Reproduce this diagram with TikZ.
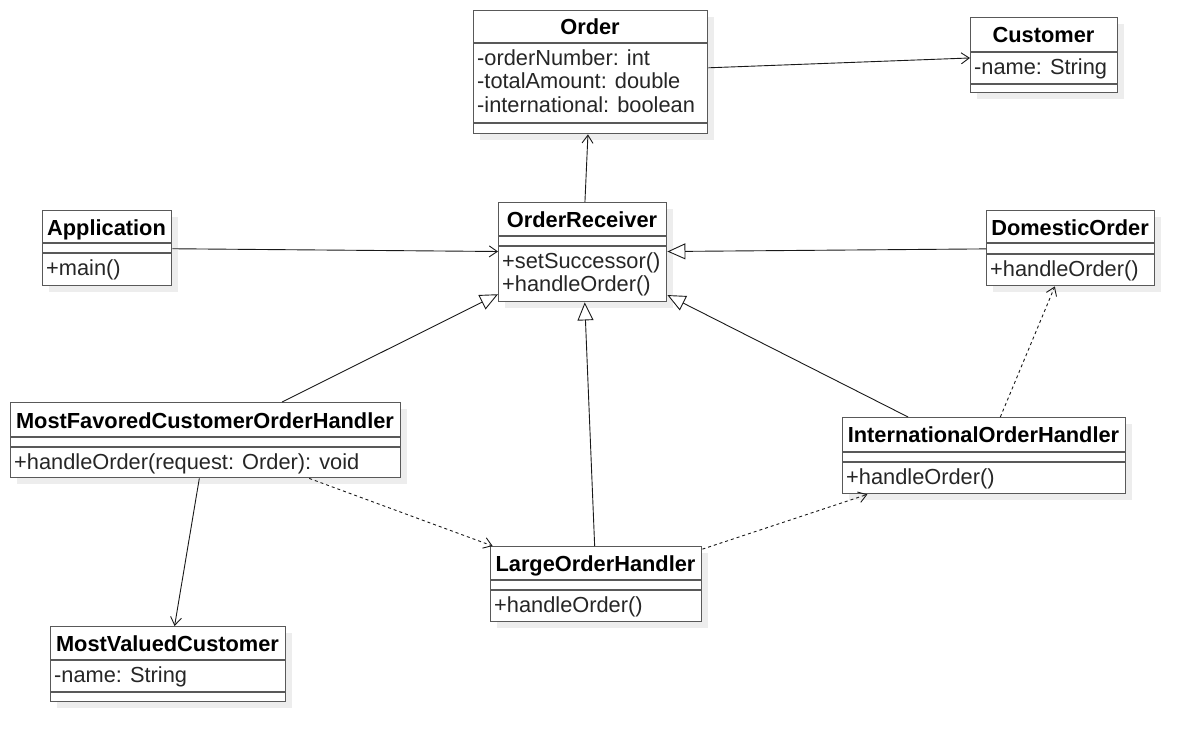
\documentclass[tikz,border=0pt]{standalone}
\usepackage{fontspec}
\setmainfont{Liberation Sans}
\usetikzlibrary{arrows.meta, shadows}

\begin{document}
\begin{tikzpicture}[x=1pt, y=-1pt,
    font={\fontsize{21.8}{23.5}\selectfont},
    classbox/.style={draw=black!65, line width=1.4pt, fill=white, inner sep=0pt, anchor=north west,
        drop shadow={shadow xshift=6pt, shadow yshift=-6pt, fill=black!7, opacity=1}},
    divider/.style={draw=black!65, line width=1.4pt},
    classname/.style={font={\fontsize{21.8}{23.5}\selectfont\bfseries}, anchor=base, inner sep=0pt},
    members/.style={align=left, anchor=north west, inner sep=0pt, text=black!85},
    assoc/.style={-{Straight Barb[length=8pt,width=11pt]}, line width=0.9pt, black!90},
    inherit/.style={-{Triangle[open,length=18pt,width=16pt,fill=white]}, line width=0.9pt, black!90},
    depend/.style={assoc, dash pattern=on 3pt off 3pt}]
    \useasboundingbox (0,0) rectangle (1193,741);

    % classes
    \node[classbox, minimum width=234, minimum height=123] (order) at (473,10) {};
    \draw[divider] (473,43) -- (707,43);
    \draw[divider] (473,123) -- (707,123);
    \node[classname] (order-name) at (590,35) {Order};
    \node[members] (order-attr) at (477,48.5) {\strut-orderNumber: int\\-totalAmount: double\\-international: boolean};

    \node[classbox, minimum width=147, minimum height=75] (customer) at (970,17) {};
    \draw[divider] (970,52) -- (1117,52);
    \draw[divider] (970,84) -- (1117,84);
    \node[classname] (customer-name) at (1043.5,43) {Customer};
    \node[members] (customer-attr) at (974,57.5) {\strut-name: String};

    \node[classbox, minimum width=129, minimum height=75] (application) at (42,210) {};
    \draw[divider] (42,243) -- (171,243);
    \draw[divider] (42,253) -- (171,253);
    \node[classname] (application-name) at (106.5,235) {Application};
    \node[members] (application-ops) at (46,258.5) {\strut+main()};

    \node[classbox, minimum width=168, minimum height=99] (receiver) at (498,202) {};
    \draw[divider] (498,236) -- (666,236);
    \draw[divider] (498,246) -- (666,246);
    \node[classname] (receiver-name) at (582,227) {OrderReceiver};
    \node[members] (receiver-ops) at (502,251.5) {\strut+setSuccessor()\\+handleOrder()};

    \node[classbox, minimum width=168, minimum height=75] (domestic) at (986,210) {};
    \draw[divider] (986,243) -- (1154,243);
    \draw[divider] (986,254) -- (1154,254);
    \node[classname] (domestic-name) at (1070,235) {DomesticOrder};
    \node[members] (domestic-ops) at (990,259.5) {\strut+handleOrder()};

    \node[classbox, minimum width=390, minimum height=75] (favored) at (10,402) {};
    \draw[divider] (10,437) -- (400,437);
    \draw[divider] (10,447) -- (400,447);
    \node[classname] (favored-name) at (205,428) {MostFavoredCustomerOrderHandler};
    \node[members] (favored-ops) at (14,452.5) {\strut+handleOrder(request: Order): void};

    \node[classbox, minimum width=283, minimum height=76] (intl) at (842,417) {};
    \draw[divider] (842,452) -- (1125,452);
    \draw[divider] (842,462) -- (1125,462);
    \node[classname] (intl-name) at (983.5,442) {InternationalOrderHandler};
    \node[members] (intl-ops) at (846,467.5) {\strut+handleOrder()};

    \node[classbox, minimum width=211, minimum height=75] (large) at (490,546) {};
    \draw[divider] (490,580) -- (701,580);
    \draw[divider] (490,590) -- (701,590);
    \node[classname] (large-name) at (595.5,571) {LargeOrderHandler};
    \node[members] (large-ops) at (494,595.5) {\strut+handleOrder()};

    \node[classbox, minimum width=235, minimum height=75] (valued) at (50,626) {};
    \draw[divider] (50,660) -- (285,660);
    \draw[divider] (50,692) -- (285,692);
    \node[classname] (valued-name) at (167.5,651) {MostValuedCustomer};
    \node[members] (valued-attr) at (54,665.5) {\strut-name: String};

    % relations
    \draw[assoc] (receiver) -- (order);
    \draw[assoc] (order) -- (customer);
    \draw[assoc] (application) -- (receiver);
    \draw[assoc] (favored) -- (valued);
    \draw[inherit] (domestic) -- (receiver);
    \draw[inherit] (favored) -- (receiver);
    \draw[inherit] (large) -- (receiver);
    \draw[inherit] (intl) -- (receiver);
    \draw[depend] (intl) -- (domestic);
    \draw[depend] (favored) -- (large);
    \draw[depend] (large) -- (intl);
\end{tikzpicture}
\end{document}
